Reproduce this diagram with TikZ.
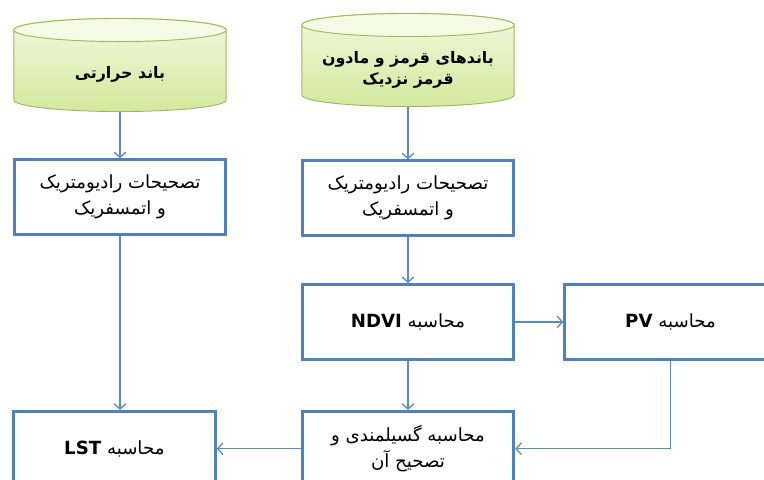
\documentclass[tikz,border=0pt]{standalone}
\usepackage{fontspec}
\newfontfamily\fa[Script=Arabic]{DejaVu Sans}
\TeXXeTstate=1
\usetikzlibrary{arrows.meta}
\usetikzlibrary{positioning}
\definecolor{boxblue}{HTML}{4F81BD}
\definecolor{arrowblue}{HTML}{5A8AC6}
\definecolor{drumline}{HTML}{9BBB59}
\definecolor{drumtop}{HTML}{F1F8DE}
\definecolor{drumbottom}{HTML}{D3E99C}
\definecolor{drumend}{HTML}{F4FAE6}
\newcommand\drumtext[1]{\raisebox{-8pt}[\height][\depth]{\begin{tabular}{@{}c@{}}#1\end{tabular}}}
\tikzset{
	txt/.style={font={\fa\fontsize{15.5}{22}\selectfont}, align=center},
	box/.style={txt, draw=boxblue, line width=2.4pt, fill=white, minimum width=6.35cm, minimum height=2.25cm, inner sep=2pt},
	drum/.style={txt, font={\fa\bfseries\fontsize{13.5}{18}\selectfont}, minimum width=6.4cm, minimum height=2.82cm, inner sep=0pt,
		path picture={
			\path[draw=drumline, top color=drumtop, bottom color=drumbottom, line width=0.8pt]
				([shift={(0.4pt,-0.36cm)}]path picture bounding box.north west)
				-- ([shift={(0.4pt,0.36cm)}]path picture bounding box.south west)
				arc[start angle=180, end angle=360, x radius=3.186cm, y radius=0.346cm]
				-- ([shift={(-0.4pt,-0.36cm)}]path picture bounding box.north east)
				arc[start angle=0, end angle=180, x radius=3.186cm, y radius=0.346cm] -- cycle;
			\draw[drumline, fill=drumend, line width=0.8pt] ([yshift=-0.36cm]path picture bounding box.north)
				ellipse[x radius=3.186cm, y radius=0.346cm];
		}},
	flow/.style={draw=arrowblue, line width=1.1pt, -{Straight Barb[length=4.5pt, width=10pt]}}
}
\begin{document}
\begin{tikzpicture}[node distance=1.44cm and 1.44cm]
		\useasboundingbox (0,0) rectangle (22.92,-14.37);

		\node [drum] (nir) at (12.24,-1.8) {\drumtext{\beginR باندهای قرمز و مادون\endR\\ \beginR قرمز نزدیک\endR}};
		\node [drum] (thermal) at (3.6,-1.95) {\drumtext{\beginR باند حرارتی\endR}};

		\node [box, below=1.56cm of nir] (corrnir) {\beginR تصحیحات رادیومتریک\endR\\ \beginR و اتمسفریک\endR};
		\node [box, below=1.38cm of thermal] (corrth) {\beginR تصحیحات رادیومتریک\endR\\ \beginR و اتمسفریک\endR};
		\node [box, below=1.38cm of corrnir] (ndvi) {\beginR محاسبه \textbf{NDVI}\endR};
		\node [box, right=of ndvi] (pv) {\beginR محاسبه \textbf{PV}\endR};
		\node [box, below=1.47cm of ndvi] (emis) {\beginR محاسبه گسیلمندی و\endR\\ \beginR تصحیح آن\endR};
		\node [box, left=2.52cm of emis, minimum width=6.06cm] (lst) {\beginR محاسبه \textbf{LST}\endR};

		\draw [flow] (thermal) -- (corrth);
		\draw [flow] (nir) -- (corrnir);
		\draw [flow] (corrnir) -- (ndvi);
		\draw [flow] (corrth.south) -- (corrth.south |- lst.north);
		\draw [flow] (ndvi) -- (pv);
		\draw [flow] (ndvi) -- (emis);
		\draw [flow] (pv.south) |- (emis.east);
		\draw [flow] (emis) -- (lst);
	\end{tikzpicture}
\end{document}
